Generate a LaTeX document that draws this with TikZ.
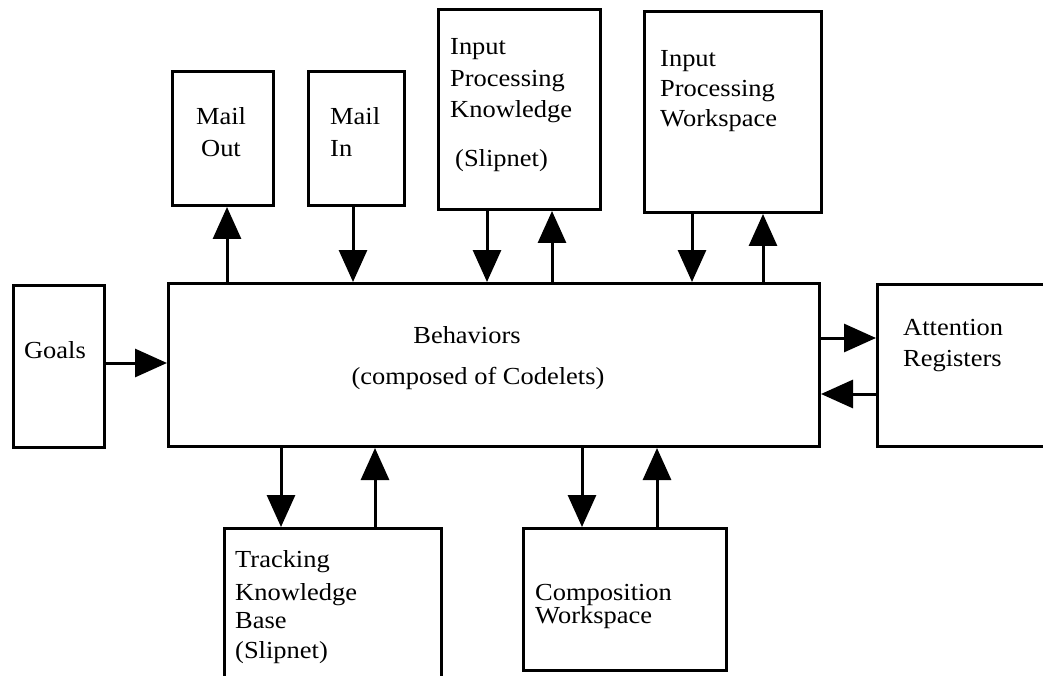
\documentclass[tikz,border=0pt]{standalone}
\usepackage{fontspec}
\setmainfont{Liberation Serif}[FakeStretch=1.08]
\usetikzlibrary{arrows.meta}
\begin{document}
\begin{tikzpicture}[x=1pt,y=-1pt,
  box/.style={draw,line width=3pt,inner sep=0pt,anchor=north west},
  txt/.style={inner sep=0pt,font=\fontsize{24.5}{28}\selectfont},
  arr/.style={line width=3pt,-{Triangle[length=32pt,width=28pt]}}]
\useasboundingbox (0,0) rectangle (1043,676);
\begin{scope}
\clip (0,0) rectangle (1043,676);
% boxes
\node[box,minimum width=91pt,minimum height=162pt] (goals) at (12,284) {};
\node[box,minimum width=651pt,minimum height=163pt] (beh) at (167,282) {};
\node[box,minimum width=200pt,minimum height=162pt] (att) at (876,283) {};
\node[box,minimum width=101pt,minimum height=134pt] (mailout) at (171,70) {};
\node[box,minimum width=96pt,minimum height=134pt] (mailin) at (307,70) {};
\node[box,minimum width=162pt,minimum height=200pt] (ipk) at (437,8) {};
\node[box,minimum width=177pt,minimum height=201pt] (ipw) at (643,10) {};
\node[box,minimum width=217pt,minimum height=180pt] (tkb) at (223,527) {};
\node[box,minimum width=203pt,minimum height=142pt] (cw) at (522,527) {};
\end{scope}
% texts
\node[txt,anchor=base] (goalsT) at (55,358) {Goals};
\node[txt,anchor=base] (behT1) at (467,343) {Behaviors};
\node[txt,anchor=base] (behT2) at (478,384) {(composed of Codelets)};
\node[txt,anchor=base west] (attT1) at (903,335) {Attention};
\node[txt,anchor=base west] (attT2) at (903,366) {Registers};
\node[txt,anchor=base] (moT1) at (221,125) {Mail};
\node[txt,anchor=base] (moT2) at (221,157) {Out};
\node[txt,anchor=base west] (miT1) at (330,125) {Mail};
\node[txt,anchor=base west] (miT2) at (330,157) {In};
\node[txt,anchor=base west] (ipkT1) at (450,55) {Input};
\node[txt,anchor=base west] (ipkT2) at (450,87) {Processing};
\node[txt,anchor=base west] (ipkT3) at (450,118) {Knowledge};
\node[txt,anchor=base west] (ipkT4) at (455,167) {(Slipnet)};
\node[txt,anchor=base west] (ipwT1) at (660,67) {Input};
\node[txt,anchor=base west] (ipwT2) at (660,97) {Processing};
\node[txt,anchor=base west] (ipwT3) at (660,127) {Workspace};
\node[txt,anchor=base west] (tkbT1) at (235,567) {Tracking};
\node[txt,anchor=base west] (tkbT2) at (235,600) {Knowledge};
\node[txt,anchor=base west] (tkbT3) at (235,628) {Base};
\node[txt,anchor=base west] (tkbT4) at (235,658) {(Slipnet)};
\node[txt,anchor=base west] (cwT1) at (535,600) {Composition};
\node[txt,anchor=base west] (cwT2) at (535,623) {Workspace};
% connectors
\draw[arr] (goals.east |- 0,363) -- (beh.west |- 0,363);
\draw[arr] (beh.north -| 227,0) -- (mailout.south -| 227,0);
\draw[arr] (mailin.south -| 353,0) -- (beh.north -| 353,0);
\draw[arr] (ipk.south -| 487,0) -- (beh.north -| 487,0);
\draw[arr] (beh.north -| 552,0) -- (ipk.south -| 552,0);
\draw[arr] (ipw.south -| 692,0) -- (beh.north -| 692,0);
\draw[arr] (beh.north -| 763,0) -- (ipw.south -| 763,0);
\draw[arr] (beh.east |- 0,338) -- (att.west |- 0,338);
\draw[arr] (att.west |- 0,394) -- (beh.east |- 0,394);
\draw[arr] (beh.south -| 281,0) -- (tkb.north -| 281,0);
\draw[arr] (tkb.north -| 375,0) -- (beh.south -| 375,0);
\draw[arr] (beh.south -| 582,0) -- (cw.north -| 582,0);
\draw[arr] (cw.north -| 657,0) -- (beh.south -| 657,0);
\end{tikzpicture}
\end{document}
